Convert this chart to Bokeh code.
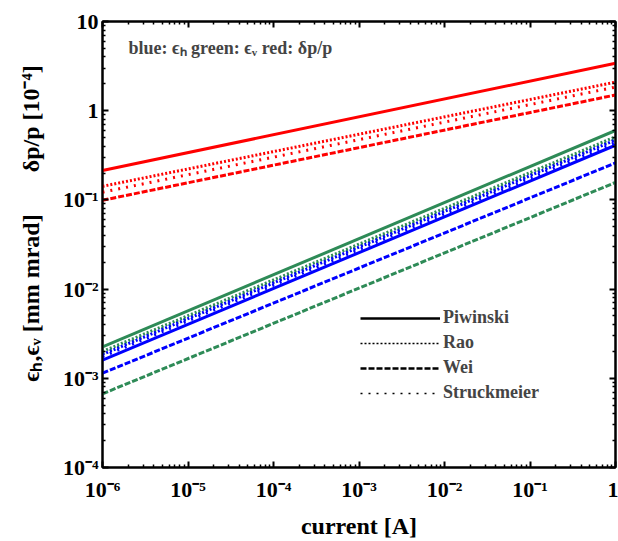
from bokeh.plotting import figure
from bokeh.models import Label, LogAxis, FixedTicker, Legend, LegendItem, CustomJSTickFormatter
from bokeh.embed import file_html
from bokeh.resources import INLINE

# ---------------- data ----------------
current = [1e-6, 1.0]  # [A]

# delta p / p  [1e-4]  (red)
dp_piwinski = [0.214, 3.40]
dp_rao = [0.142, 2.09]
dp_wei = [0.099, 1.50]
dp_struckmeier = [0.122, 1.84]

# eps_v [mm mrad] (green)
ev_piwinski = [2.25e-3, 0.60]
ev_rao = [2.00e-3, 0.51]
ev_wei = [6.7e-4, 0.157]
ev_struckmeier = [1.90e-3, 0.48]

# eps_h [mm mrad] (blue)
eh_piwinski = [1.60e-3, 0.41]
eh_rao = [1.85e-3, 0.47]
eh_wei = [1.14e-3, 0.26]
eh_struckmeier = [1.75e-3, 0.44]

legend_labels = ["Piwinski", "Rao", "Wei", "Struckmeier"]
x_exponents = [-6, -5, -4, -3, -2, -1, 0]
y_exponents = [-4, -3, -2, -1, 0, 1]

# ---------------- styles ----------------
FONT = "Liberation Serif"
RED, GREEN, BLUE = "#ff0000", "#2e8b57", "#0000ff"
DASH = {"Piwinski": "solid", "Rao": "2 2", "Wei": "6 2", "Struckmeier": "2 6"}
NB = "\u00a0"

p = figure(width=618, height=541, x_axis_type="log", y_axis_type="log",
           x_range=(1e-6, 1.0), y_range=(1e-4, 10.0),
           output_backend="svg", toolbar_location=None,
           min_border_left=102, min_border_right=3,
           min_border_top=21, min_border_bottom=71)
p.grid.visible = False
p.outline_line_color = "black"
p.outline_line_width = 2
p.background_fill_color = "white"
p.border_fill_color = "white"

xmajor = [10.0 ** k for k in x_exponents]
ymajor = [10.0 ** k for k in y_exponents]
xminor = [m * 10.0 ** k for k in x_exponents[:-1] for m in range(2, 10)]
yminor = [m * 10.0 ** k for k in y_exponents[:-1] for m in range(2, 10)]

SUP_CODE = """
const sup = {'-':'\u207b','0':'\u2070','1':'\u00b9','2':'\u00b2','3':'\u00b3','4':'\u2074',
             '5':'\u2075','6':'\u2076','7':'\u2077','8':'\u2078','9':'\u2079'};
const e = Math.round(Math.log10(tick));
if (e == 0) return '1';
if (e == 1) return '10';
return '10' + String(e).split('').map(c => sup[c]).join('');
"""

def style_axis(ax, labels):
    ax.axis_line_width = 2
    ax.axis_line_color = "black"
    ax.major_tick_in = 6
    ax.major_tick_out = 0
    ax.minor_tick_in = 3
    ax.minor_tick_out = 0
    ax.major_tick_line_width = 2
    ax.minor_tick_line_width = 1.5
    if labels:
        ax.formatter = CustomJSTickFormatter(code=SUP_CODE)
        ax.major_label_text_font = FONT
        ax.major_label_text_font_style = "bold"
        ax.major_label_text_font_size = "22px"
        ax.major_label_text_color = "black"
    else:
        ax.formatter = CustomJSTickFormatter(code="return '';")
        ax.major_label_standoff = 0

for ax in p.xaxis:
    ax.ticker = FixedTicker(ticks=xmajor, minor_ticks=xminor)
    style_axis(ax, True)
    ax.major_label_standoff = 9
    ax.axis_label = "current [A]"
    ax.axis_label_standoff = 8
for ax in p.yaxis:
    ax.ticker = FixedTicker(ticks=ymajor, minor_ticks=yminor)
    style_axis(ax, True)
    ax.major_label_standoff = 4
    ax.axis_label = NB * 7 + "ϵₕ,ϵᵥ [mm mrad]" + NB * 7 + "δp/p [10⁻⁴]"
    ax.axis_label_standoff = 16

for ax in list(p.xaxis) + list(p.yaxis):
    ax.axis_label_text_font = FONT
    ax.axis_label_text_font_style = "bold"
    ax.axis_label_text_font_size = "24px"
    ax.axis_label_text_color = "black"

top_ax = LogAxis(ticker=FixedTicker(ticks=xmajor, minor_ticks=xminor))
style_axis(top_ax, False)
p.add_layout(top_ax, "above")
right_ax = LogAxis(ticker=FixedTicker(ticks=ymajor, minor_ticks=yminor))
style_axis(right_ax, False)
p.add_layout(right_ax, "right")

# ---------------- data lines ----------------
series = [
    (dp_piwinski, RED, "Piwinski"), (dp_rao, RED, "Rao"),
    (dp_struckmeier, RED, "Struckmeier"), (dp_wei, RED, "Wei"),
    (ev_piwinski, GREEN, "Piwinski"), (ev_rao, GREEN, "Rao"),
    (ev_struckmeier, GREEN, "Struckmeier"), (ev_wei, GREEN, "Wei"),
    (eh_piwinski, BLUE, "Piwinski"), (eh_rao, BLUE, "Rao"),
    (eh_struckmeier, BLUE, "Struckmeier"), (eh_wei, BLUE, "Wei"),
]
for vals, col, name in series:
    p.line(current, vals, line_color=col, line_width=3, line_dash=DASH[name])

# ---------------- legend (black samples) ----------------
items = []
for name in legend_labels:
    r = p.line(x=[1e-3], y=[1e-3], line_color="black",
               line_width=2.5 if name in ("Piwinski", "Wei") else 1.5,
               line_dash=DASH[name])
    items.append(LegendItem(label=name, renderers=[r]))
legend = Legend(items=items, location=(258, 64), glyph_width=80, glyph_height=20,
                label_height=20, spacing=4, padding=0, margin=0,
                border_line_color=None, background_fill_alpha=0,
                label_text_font=FONT, label_text_font_style="bold",
                label_text_font_size="18px", label_standoff=3)
p.add_layout(legend)

# ---------------- annotation ----------------
p.add_layout(Label(x=26, y=420, x_units="screen", y_units="screen",
                   text="blue: ϵₕ green: ϵᵥ red: δp/p",
                   text_align="left", text_baseline="alphabetic",
                   text_font=FONT, text_font_style="bold", text_font_size="18px"))

open("out.html", "w").write(file_html(p, INLINE))
